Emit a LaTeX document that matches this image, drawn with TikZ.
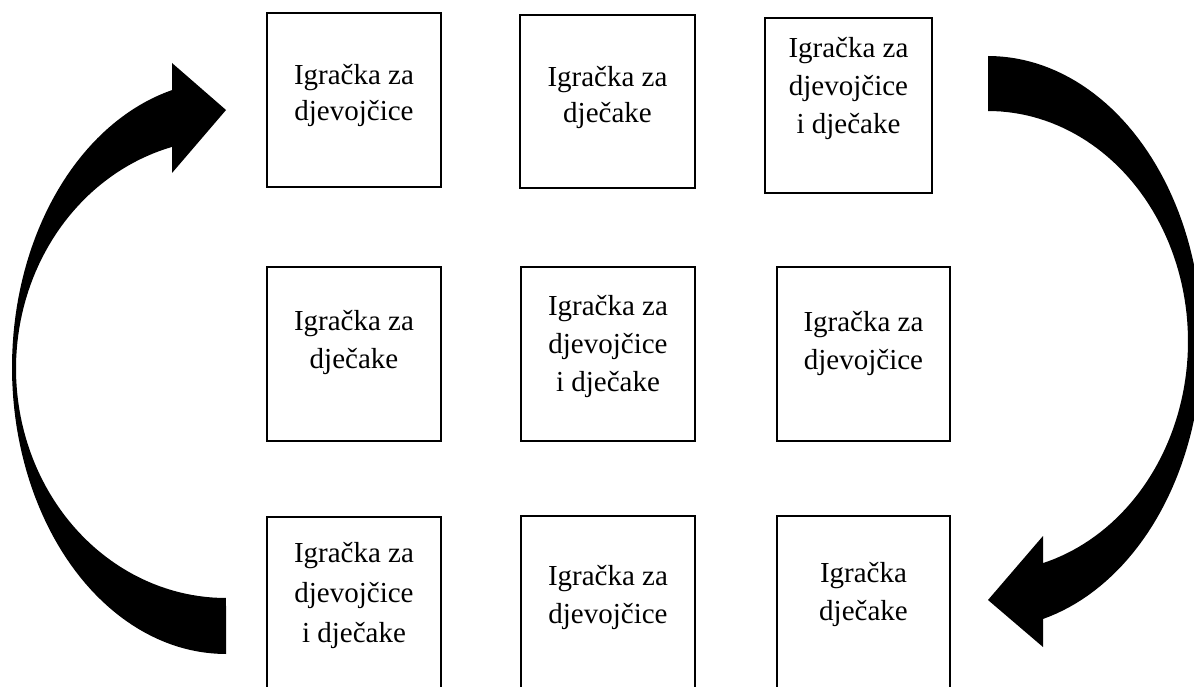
\documentclass[tikz,border=0pt]{standalone}
\usepackage{fontspec}
\setmainfont{Liberation Serif}
\begin{document}
\begin{tikzpicture}[x=1pt,y=-1pt,
  tbox/.style={draw, line width=1.8pt, minimum width=174pt, minimum height=174pt, inner sep=0pt, outer sep=0pt},
  lbl/.style={anchor=base, inner sep=0pt, font=\fontsize{29}{37}\selectfont},
  bigarrow/.style={fill=black, draw=none}]
\useasboundingbox (0,0) rectangle (1194,687);
\clip (0,0) rectangle (1194,687);
% boxes
\node[tbox] (b11) at (354,100) {};
\node[tbox, minimum width=175pt, minimum height=173pt] (b12) at (607.5,101.5) {};
\node[tbox, minimum width=167pt, minimum height=175pt] (b13) at (848.5,105.5) {};
\node[tbox] (b21) at (354,354) {};
\node[tbox] (b22) at (608,354) {};
\node[tbox, minimum width=173pt] (b23) at (863.5,354) {};
\node[tbox] (b31) at (354,604) {};
\node[tbox] (b32) at (608,603) {};
\node[tbox, minimum width=173pt] (b33) at (863.5,603) {};
% texts
\node[lbl] (t11a) at (354,85) {Igračka za};
\node[lbl] (t11b) at (354,121) {djevojčice};
\node[lbl] (t12a) at (607.5,87) {Igračka za};
\node[lbl] (t12b) at (607.5,123) {dječake};
\node[lbl] (t13a) at (848.5,58) {Igračka za};
\node[lbl] (t13b) at (848.5,96) {djevojčice};
\node[lbl] (t13c) at (848.5,134) {i dječake};
\node[lbl] (t21a) at (354,330) {Igračka za};
\node[lbl] (t21b) at (354,368) {dječake};
\node[lbl] (t22a) at (608,315) {Igračka za};
\node[lbl] (t22b) at (608,353) {djevojčice};
\node[lbl] (t22c) at (608,391) {i dječake};
\node[lbl] (t23a) at (863.5,331) {Igračka za};
\node[lbl] (t23b) at (863.5,369) {djevojčice};
\node[lbl] (t31a) at (354,562) {Igračka za};
\node[lbl] (t31b) at (354,602) {djevojčice};
\node[lbl] (t31c) at (354,642) {i dječake};
\node[lbl] (t32a) at (608,585) {Igračka za};
\node[lbl] (t32b) at (608,623) {djevojčice};
\node[lbl] (t33a) at (863.5,582) {Igračka};
\node[lbl] (t33b) at (863.5,620) {dječake};
% left curved arrow (bottom -> top, pointing right)
\fill[bigarrow] (226,654)
  -- plot[domain=90:255.39, samples=90, variable=\t] ({226+214*cos(\t)},{367.4+286.6*sin(\t)})
  -- (172,63) -- (226,110) -- (172,173) -- (172,147)
  -- plot[domain=255.1:90, samples=90, variable=\t] ({226+210*cos(\t)},{368.6+229.4*sin(\t)})
  -- cycle;
% right curved arrow (top -> bottom, pointing left)
\fill[bigarrow] (988,56)
  -- plot[domain=-90:75.1, samples=90, variable=\t] ({988+214*cos(\t)},{342.3+286.3*sin(\t)})
  -- (1043,647) -- (988,600) -- (1043,536) -- (1043,563)
  -- plot[domain=74.04:-90, samples=90, variable=\t] ({988+200*cos(\t)},{341.5+230.5*sin(\t)})
  -- cycle;
\end{tikzpicture}
\end{document}
